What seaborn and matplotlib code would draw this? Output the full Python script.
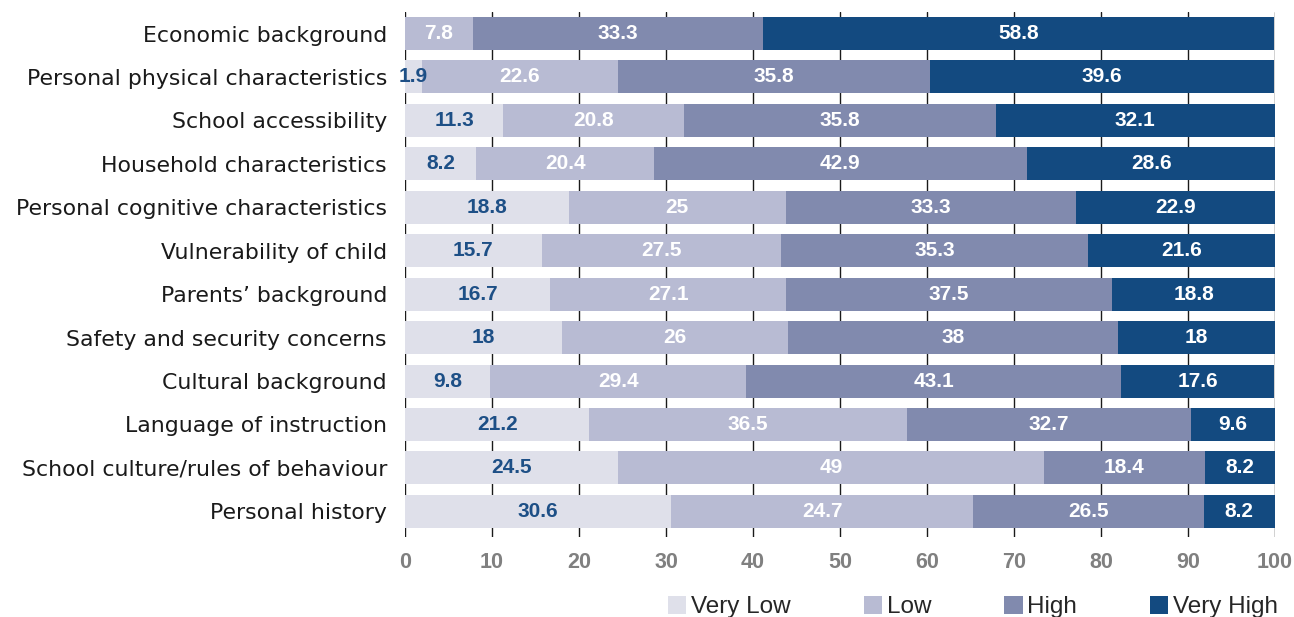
import matplotlib
matplotlib.use("Agg")
import matplotlib.pyplot as plt
import seaborn as sns
import pandas as pd
import numpy as np
from matplotlib.patches import Patch

categories = [
    "Economic background",
    "Personal physical characteristics",
    "School accessibility",
    "Household characteristics",
    "Personal cognitive characteristics",
    "Vulnerability of child",
    "Parents\u2019 background",
    "Safety and security concerns",
    "Cultural background",
    "Language of instruction",
    "School culture/rules of behaviour",
    "Personal history",
]
# Bar lengths as drawn in the reference
very_low = [0, 1.9, 11.3, 8.2, 18.8, 15.7, 16.7, 18, 9.8, 21.2, 24.5, 30.6]
low = [7.8, 22.6, 20.8, 20.4, 25, 27.5, 27.1, 26, 29.4, 36.5, 49, 34.7]
high = [33.3, 35.8, 35.8, 42.9, 33.3, 35.3, 37.5, 38, 43.1, 32.7, 18.4, 26.5]
very_high = [58.8, 39.6, 32.1, 28.6, 22.9, 21.6, 18.8, 18, 17.6, 9.6, 8.2, 8.2]
# Value labels as printed in the reference (last "Low" label is printed as 24.7)
very_low_labels = ["", "1.9", "11.3", "8.2", "18.8", "15.7", "16.7", "18", "9.8", "21.2", "24.5", "30.6"]
low_labels = ["7.8", "22.6", "20.8", "20.4", "25", "27.5", "27.1", "26", "29.4", "36.5", "49", "24.7"]
high_labels = ["33.3", "35.8", "35.8", "42.9", "33.3", "35.3", "37.5", "38", "43.1", "32.7", "18.4", "26.5"]
very_high_labels = ["58.8", "39.6", "32.1", "28.6", "22.9", "21.6", "18.8", "18", "17.6", "9.6", "8.2", "8.2"]
series_names = ["Very Low", "Low", "High", "Very High"]
x_ticks = [0, 10, 20, 30, 40, 50, 60, 70, 80, 90, 100]

colors = ["#dfe0ea", "#b8bbd3", "#818aae", "#134a80"]
label_colors = ["#1d4f86", "white", "white", "white"]

sns.set_theme(style="white")
plt.rcParams["font.family"] = ["Liberation Sans", "DejaVu Sans"]

df = pd.DataFrame({"category": categories, "Very Low": very_low, "Low": low,
                   "High": high, "Very High": very_high})
cum = df[series_names].cumsum(axis=1)
all_labels = [very_low_labels, low_labels, high_labels, very_high_labels]

fig = plt.figure(figsize=(12.94, 6.17), dpi=100)
ax = fig.add_axes([405 / 1294, 1 - 537 / 617, 870 / 1294, 525 / 617])

for k in range(len(series_names) - 1, -1, -1):
    name = series_names[k]
    sns.barplot(x=cum[name], y=df["category"], orient="h", color=colors[k],
                saturation=1, width=0.76, linewidth=0, ax=ax)

for k, name in enumerate(series_names):
    for i in range(len(categories)):
        v = df[name].iloc[i]
        txt = all_labels[k][i]
        if v <= 0 or not txt:
            continue
        cx = cum[name].iloc[i] - v / 2
        ax.text(cx, i, txt, ha="center", va="center", fontsize=15,
                fontweight="bold", color=label_colors[k])

ax.set_xlim(0, 100)
ax.set_ylim(11.59, -0.495)
ax.set_xticks(x_ticks)
ax.set_xticklabels([str(t) for t in x_ticks], fontsize=15.5, fontweight="bold",
                   color="#808080", family=["Liberation Sans Narrow", "Liberation Sans"])
ax.set_yticks(range(len(categories)))
ax.set_yticklabels(categories, family=["DejaVu Sans"], fontsize=15.8, color="#1a1a1a")
ax.set_xlabel("")
ax.set_ylabel("")
ax.tick_params(axis="x", length=0, pad=11)
ax.tick_params(axis="y", length=0, pad=13)
for s in ax.spines.values():
    s.set_visible(False)
ax.xaxis.grid(True, color="#1a1a1a", linewidth=1)
ax.yaxis.grid(False)
ax.set_axisbelow(True)

handles = [Patch(facecolor=c, edgecolor="none") for c in colors]
fig.legend(handles, series_names, ncol=4, loc="lower right",
           bbox_to_anchor=(1288 / 1294, -0.018), frameon=False, fontsize=17.5,
           handlelength=0.75, handleheight=0.75, handletextpad=0.2,
           columnspacing=3.0, borderaxespad=0)

fig.savefig("out.png", dpi=100)
